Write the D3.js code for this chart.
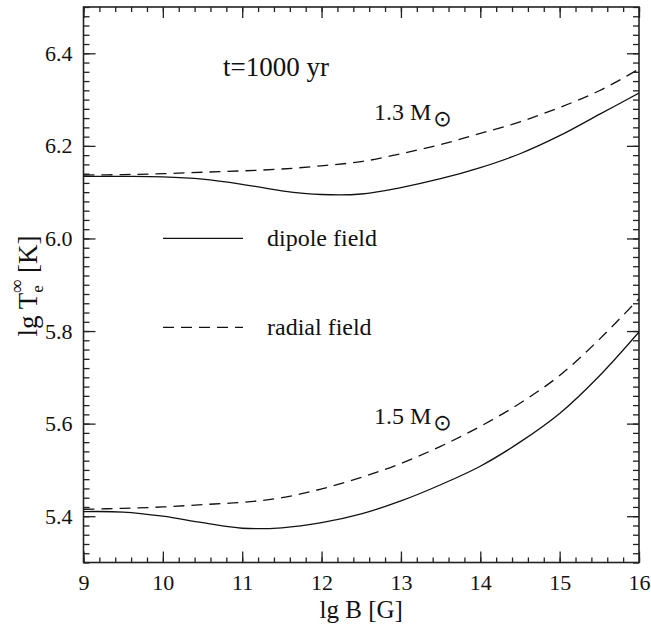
<!DOCTYPE html>
<html>
<head>
<meta charset="utf-8">
<script src="https://cdn.jsdelivr.net/npm/d3@7"></script>
<style>
  body { margin: 0; background: #fff; }
  svg text { font-family: "Liberation Serif", serif; fill: #111; }
</style>
</head>
<body>
<div id="chart"></div>
<script>
/* DATA */
const lgB = [9, 9.5, 10, 10.5, 11, 11.5, 12, 12.5, 13, 13.5, 14, 14.5, 15, 15.5, 16];
const dipole13 = [6.134, 6.134, 6.133, 6.128, 6.117, 6.103, 6.095, 6.096, 6.110, 6.129, 6.153, 6.183, 6.222, 6.268, 6.314];
const radial13 = [6.137, 6.138, 6.140, 6.143, 6.146, 6.150, 6.157, 6.166, 6.183, 6.203, 6.227, 6.252, 6.283, 6.319, 6.366];
const dipole15 = [5.410, 5.409, 5.400, 5.386, 5.374, 5.375, 5.386, 5.405, 5.433, 5.468, 5.508, 5.560, 5.622, 5.703, 5.798];
const radial15 = [5.415, 5.417, 5.420, 5.425, 5.430, 5.440, 5.459, 5.484, 5.514, 5.551, 5.594, 5.644, 5.704, 5.782, 5.870];
const xTicks = [9, 10, 11, 12, 13, 14, 15, 16];
const yTicks = [5.4, 5.6, 5.8, 6.0, 6.2, 6.4];

const series = [
  { name: "dipole13", values: dipole13, dash: null },
  { name: "radial13", values: radial13, dash: "11,7" },
  { name: "dipole15", values: dipole15, dash: null },
  { name: "radial15", values: radial15, dash: "11,7" }
];

/* LAYOUT */
const width = 651, height = 634,
  margin = { top: 7, right: 12, bottom: 71.5, left: 83.5 };

const svg = d3.select("#chart").append("svg")
  .attr("width", width).attr("height", height);

const xScale = d3.scaleLinear().domain([9, 16]).range([margin.left, width - margin.right]);
const yScale = d3.scaleLinear().domain([5.3, 6.5]).range([height - margin.bottom, margin.top]);

const minorX = d3.range(9, 16.001, 0.2).map(d => +d.toFixed(2));
const minorY = d3.range(5.3, 6.501, 0.02).map(d => +d.toFixed(2));

// clip for curves
svg.append("clipPath").attr("id", "clip")
  .append("rect")
  .attr("x", margin.left).attr("y", margin.top)
  .attr("width", xScale(16) - xScale(9)).attr("height", yScale(5.3) - yScale(6.5));

function addAxis(axis, tx, ty, cls) {
  const g = svg.append("g").attr("class", "axis " + cls)
    .attr("transform", `translate(${tx},${ty})`)
    .call(axis)
    .attr("font-family", null);
  g.select(".domain").remove();
  g.selectAll("line").attr("stroke", "#222").attr("stroke-width", 1.3);
  return g;
}

// minor ticks, inward on all four sides
addAxis(d3.axisBottom(xScale).tickValues(minorX).tickSize(-5).tickFormat(""), 0, yScale(5.3), "mx");
addAxis(d3.axisTop(xScale).tickValues(minorX).tickSize(-5).tickFormat(""), 0, yScale(6.5), "mx");
addAxis(d3.axisLeft(yScale).tickValues(minorY).tickSize(-6).tickFormat(""), xScale(9), 0, "my");
addAxis(d3.axisRight(yScale).tickValues(minorY).tickSize(-6).tickFormat(""), xScale(16), 0, "my");

// major ticks + labels
addAxis(d3.axisBottom(xScale).tickValues(xTicks).tickSize(-11).tickPadding(12).tickFormat(d3.format("d")), 0, yScale(5.3), "x");
addAxis(d3.axisTop(xScale).tickValues(xTicks).tickSize(-11).tickFormat(""), 0, yScale(6.5), "x");
addAxis(d3.axisLeft(yScale).tickValues(yTicks).tickSize(-12).tickPadding(11).tickFormat(d3.format(".1f")), xScale(9), 0, "y");
addAxis(d3.axisRight(yScale).tickValues(yTicks).tickSize(-12).tickFormat(""), xScale(16), 0, "y");

svg.selectAll(".axis text")
  .style("font-size", "22px")
  .attr("fill", "#111");

// frame
svg.append("rect")
  .attr("x", xScale(9)).attr("y", yScale(6.5))
  .attr("width", xScale(16) - xScale(9)).attr("height", yScale(5.3) - yScale(6.5))
  .attr("fill", "none").attr("stroke", "#222").attr("stroke-width", 1.6);

// curves
const line = d3.line()
  .x((d, i) => xScale(lgB[i]))
  .y(d => yScale(d))
  .curve(d3.curveCatmullRom.alpha(0.5));

svg.append("g").attr("clip-path", "url(#clip)")
  .selectAll("path.curve")
  .data(series)
  .join("path")
  .attr("class", "curve")
  .attr("d", d => line(d.values))
  .attr("fill", "none")
  .attr("stroke", "#111")
  .attr("stroke-width", 1.3)
  .attr("stroke-dasharray", d => d.dash);

// legend
const legend = [
  { label: "dipole field", dash: null, y: 6.0 },
  { label: "radial field", dash: "11,7", y: 5.808 }
];
const lg = svg.append("g").selectAll("g").data(legend).join("g");
lg.append("line")
  .attr("x1", 163).attr("x2", 243)
  .attr("y1", d => yScale(d.y)).attr("y2", d => yScale(d.y))
  .attr("stroke", "#111").attr("stroke-width", 1.3)
  .attr("stroke-dasharray", d => d.dash);
lg.append("text")
  .attr("x", 267).attr("y", d => yScale(d.y) + 8)
  .style("font-size", "24px")
  .text(d => d.label);

// annotations
svg.append("text")
  .attr("x", 223).attr("y", 76)
  .style("font-size", "27px")
  .text("t=1000 yr");

function massLabel(txt, x, y) {
  const t = svg.append("text").attr("x", x).attr("y", y).style("font-size", "24px");
  t.append("tspan").text(txt + " M");
  t.append("tspan").attr("dy", 6).attr("dx", 2)
    .style("font-family", "'DejaVu Sans', sans-serif")
    .style("font-size", "22px").text("\u2299");
}
massLabel("1.3", 374, 120);
massLabel("1.5", 374, 424);

// axis titles
svg.append("text")
  .attr("x", (xScale(9) + xScale(16)) / 2).attr("y", 618)
  .attr("text-anchor", "middle")
  .style("font-size", "25px")
  .text("lg B [G]");

const yt = svg.append("text")
  .attr("transform", `translate(37,286) rotate(-90)`)
  .attr("text-anchor", "middle")
  .style("font-size", "27px");
yt.append("tspan").text("lg T");
yt.append("tspan").attr("dy", 6).style("font-size", "17px").text("e");
yt.append("tspan").attr("dx", -8).attr("dy", -20).style("font-size", "19px").text("\u221E");
yt.append("tspan").attr("dy", 14).text(" [K]");
</script>
</body>
</html>
